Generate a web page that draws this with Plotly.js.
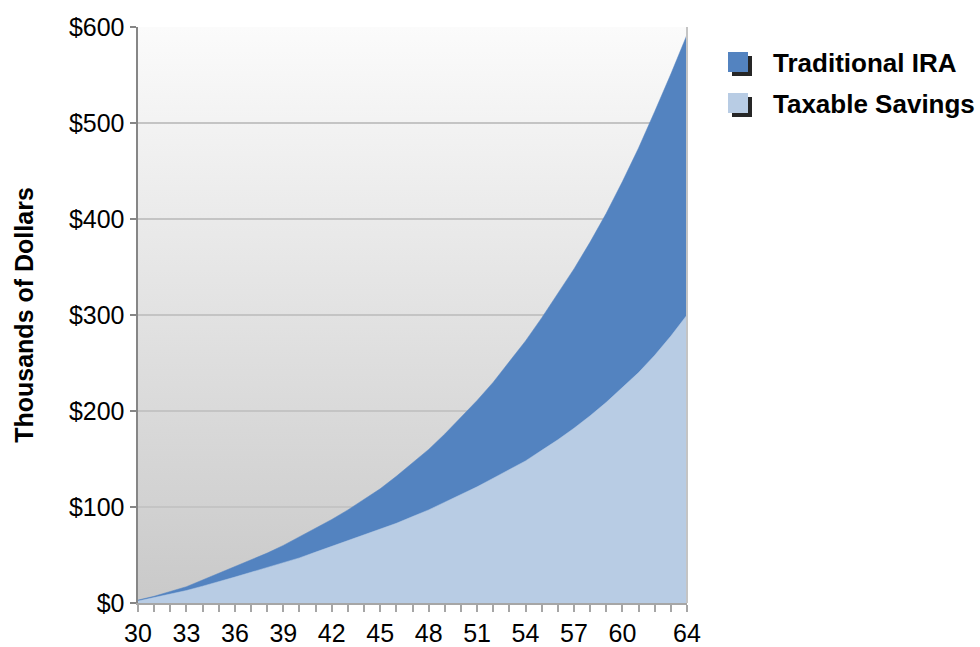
<!DOCTYPE html>
<html>
<head>
<meta charset="utf-8">
<script src="https://cdn.plot.ly/plotly-3.0.1.min.js"></script>
<style>
  html, body { margin: 0; padding: 0; background: #ffffff; }
  #chart { width: 980px; height: 647px; }
</style>
</head>
<body>
<div id="chart"></div>
<script>
const ages = [30,31,32,33,34,35,36,37,38,39,40,41,42,43,44,45,46,47,48,49,50,51,52,53,54,55,56,57,58,59,60,61,62,63,64];
const traditionalIRA = [3,7,12,17,24,31,38,45,52,60,69,78,87,97,108,119,132,146,160,176,193,211,230,251,273,297,322,348,376,406,439,474,512,551,592];
const taxableSavings = [2,5.5,9,13,17.5,22,27,32,37,42,47,53,59,65,71,77,83,90,97,105,113,121,130,139,148,159,170,182,195,209,224,240,258,278,300];
const xLabelAges = [30,33,36,39,42,45,48,51,54,57,60,64];
const yTicks = [0,100,200,300,400,500,600];
const seriesNames = ["Traditional IRA", "Taxable Savings"];
const seriesColors = ["#5383c0", "#b8cce4"];

const FONT = "Liberation Sans, Arial, sans-serif";
const W = 980, H = 647;
const M = { l: 138, r: 293, t: 27, b: 44 };
const PW = W - M.l - M.r, PH = H - M.t - M.b;
const px2x = p => (p - M.l) / PW;
const px2y = p => (H - M.b - p) / PH;

const xTickText = ages.map(a => xLabelAges.includes(a) ? String(a) : "");
const yTickText = yTicks.map(v => "$" + v);

const traces = [
  {
    x: ages, y: traditionalIRA, type: "scatter", mode: "lines", name: seriesNames[0],
    fill: "tozeroy", fillcolor: seriesColors[0],
    line: { color: seriesColors[0], width: 0.5 },
    showlegend: false, hoverinfo: "skip"
  },
  {
    x: ages, y: taxableSavings, type: "scatter", mode: "lines", name: seriesNames[1],
    fill: "tozeroy", fillcolor: seriesColors[1],
    line: { color: seriesColors[1], width: 0.5 },
    showlegend: false, hoverinfo: "skip"
  }
];

// Manual legend (square swatch with drop shadow + bold label)
const legendRows = [62, 103];   // pixel centre of each legend row
const shapes = [
  { type: "line", xref: "paper", yref: "paper", x0: 1, x1: 1, y0: 0, y1: 1,
    line: { color: "#c4c4c4", width: 2 }, layer: "above" }
];
const annotations = [];
seriesNames.forEach((name, i) => {
  const cy = legendRows[i];
  shapes.push({ type: "rect", xref: "paper", yref: "paper",
    x0: px2x(732), x1: px2x(752), y0: px2y(cy - 6), y1: px2y(cy + 14),
    fillcolor: "#262626", line: { width: 0 }, layer: "above" });
  shapes.push({ type: "rect", xref: "paper", yref: "paper",
    x0: px2x(728), x1: px2x(748), y0: px2y(cy - 10), y1: px2y(cy + 10),
    fillcolor: seriesColors[i], line: { width: 0 }, layer: "above" });
  annotations.push({ xref: "paper", yref: "paper", x: px2x(771), y: px2y(cy + 1),
    xanchor: "left", yanchor: "middle", showarrow: false, text: "<b>" + name + "</b>",
    font: { family: FONT, size: 26, color: "#000000" } });
});

const svg = "<svg xmlns='http://www.w3.org/2000/svg' width='10' height='100' preserveAspectRatio='none'>" +
  "<defs><linearGradient id='g' x1='0' y1='0' x2='0' y2='1'>" +
  "<stop offset='0' stop-color='#fbfbfb'/><stop offset='1' stop-color='#c9c9c9'/>" +
  "</linearGradient></defs><rect width='10' height='100' fill='url(#g)'/></svg>";
const bgSrc = "data:image/svg+xml;charset=utf-8," + encodeURIComponent(svg);

const layout = {
  width: W, height: H,
  margin: { l: M.l, r: M.r, t: M.t, b: M.b, pad: 0, autoexpand: false },
  paper_bgcolor: "#ffffff",
  plot_bgcolor: "rgba(0,0,0,0)",
  showlegend: false,
  font: { family: FONT, size: 25, color: "#000000" },
  xaxis: {
    range: [30, 64], tickmode: "array", tickvals: ages, ticktext: xTickText,
    ticks: "outside", ticklen: 7, tickwidth: 2, tickcolor: "#a6a6a6",
    showline: true, linecolor: "#a6a6a6", linewidth: 2,
    showgrid: false, zeroline: false, fixedrange: true,
    tickfont: { family: FONT, size: 25, color: "#000000" }
  },
  yaxis: {
    range: [0, 600], tickmode: "array", tickvals: yTicks, ticktext: yTickText,
    ticks: "outside", ticklen: 6, tickwidth: 2, tickcolor: "#868686",
    showline: true, linecolor: "#868686", linewidth: 2.5,
    showgrid: true, gridcolor: "#c4c4c4", gridwidth: 2,
    zeroline: false, fixedrange: true,
    tickfont: { family: FONT, size: 25, color: "#000000" },
    title: { text: "<b>Thousands of Dollars</b>", font: { family: FONT, size: 25, color: "#000000" }, standoff: 28 }
  },
  images: [{
    source: bgSrc, xref: "paper", yref: "paper", x: 0, y: 1, sizex: 1, sizey: 1,
    xanchor: "left", yanchor: "top", sizing: "stretch", layer: "below"
  }],
  shapes: shapes,
  annotations: annotations
};

Plotly.newPlot("chart", traces, layout, { displayModeBar: false, staticPlot: true });
</script>
</body>
</html>
